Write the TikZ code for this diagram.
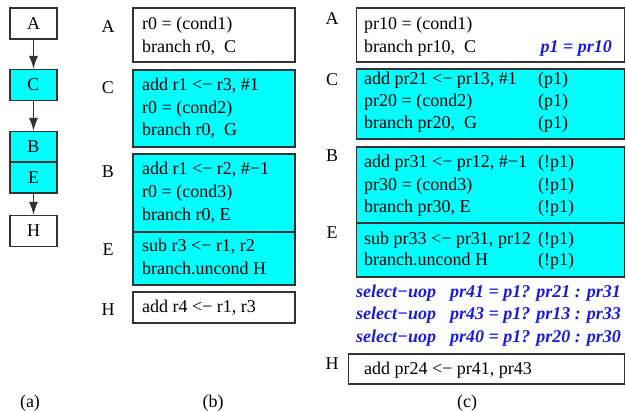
\documentclass[tikz,border=0pt]{standalone}
\usepackage{fontspec}
\setmainfont{Liberation Serif}
\usetikzlibrary{arrows.meta,positioning,calc}
\definecolor{blockfill}{HTML}{00FFFF}
\definecolor{predblue}{HTML}{1A1AE6}
\definecolor{boxline}{HTML}{333333}

\begin{document}
\begin{tikzpicture}[x=1pt,y=-1pt,font=\fontsize{18}{22}\selectfont,
  cfg/.style={draw=boxline,line width=1.2pt,fill=#1,minimum width=47pt,minimum height=31pt,inner sep=0pt},
  blk/.style={draw=boxline,line width=1.2pt,fill=#1,inner sep=0pt},
  line/.style={anchor=mid west,inner sep=0pt},
  pred/.style={anchor=mid west,inner sep=0pt,text=predblue,font=\fontsize{18}{22}\selectfont\bfseries\itshape},
  flow/.style={-{Latex[length=13pt,width=9pt]},line width=1.3pt,draw=boxline}]
\useasboundingbox (0,0) rectangle (626,410);

% (a) control flow
\node[cfg=white] (aA) at (33.5,23.5) {A};
\node[cfg=blockfill] (aC) at (33.5,85) {C};
\node[cfg=blockfill] (aB) at (33.5,147) {B};
\node[cfg=blockfill] (aE) at (33.5,177.5) {E};
\node[cfg=white] (aH) at (33.5,231) {H};
\draw[flow] (aA) -- (aC);
\draw[flow] (aC) -- (aB);
\draw[flow] (aE) -- (aH);

% (b) original code
\node[blk=white,minimum width=162pt,minimum height=54pt] (bA) at (214,35) {};
\node[blk=blockfill,minimum width=162pt,minimum height=77pt] (bC) at (214,108.5) {};
\node[blk=blockfill,minimum width=162pt,minimum height=78pt] (bB) at (214,193) {};
\node[blk=blockfill,minimum width=162pt,minimum height=53pt] (bE) at (214,258.5) {};
\node[blk=white,minimum width=162pt,minimum height=31pt] (bH) at (214,307.5) {};
\foreach \y/\l [count=\k] in {27/A,88/C,172/B,250/E,310/H}
  \node (bl\k) at (108,\y) {\l};
\foreach \y/\t [count=\k] in {27/{r0 = (cond1)},50/{branch r0,\ \ C},
  88/{add r1 <− r3, \#1},111/{r0 = (cond2)},133/{branch r0,\ \ G},
  172/{add r1 <− r2, \#−1},195/{r0 = (cond3)},218/{branch r0, E},
  249/{sub r3 <− r1, r2},272/{branch.uncond H},310/{add r4 <− r1, r3}}
  \node[line] (bt\k) at (142,\y) {\t};

% (c) predicated code
\node[blk=white,minimum width=268pt,minimum height=54pt] (cA) at (490.5,35) {};
\node[blk=blockfill,minimum width=268pt,minimum height=70pt] (cC) at (490.5,104) {};
\node[blk=blockfill,minimum width=268pt,minimum height=76pt] (cB) at (490.5,185) {};
\node[blk=blockfill,minimum width=268pt,minimum height=54pt] (cE) at (490.5,250) {};
\node[blk=white,minimum width=276pt,minimum height=30pt] (cH) at (486.5,369) {};
\foreach \y/\l [count=\k] in {19/A,80/C,156/B,233/E,364/H}
  \node (cl\k) at (332,\y) {\l};
\foreach \y/\t [count=\k] in {27/{pr10 = (cond1)},50/{branch pr10,\ \ C},
  82/{add pr21 <− pr13, \#1},104/{pr20 = (cond2)},126/{branch pr20,\ \ G},
  165/{add pr31 <− pr12, \#−1},188/{pr30 = (cond3)},210/{branch pr30, E},
  242/{sub pr33 <− pr31, pr12},263/{branch.uncond H},372/{add pr24 <− pr41, pr43}}
  \node[line] (ct\k) at (364,\y) {\t};
\foreach \y/\p [count=\k] in {82/(p1),104/(p1),126/(p1),165/(!p1),188/(!p1),210/(!p1),242/(!p1),263/(!p1)}
  \node[line] (cp\k) at (538,\y) {\p};
\node[pred,anchor=mid east] (cq) at (612,50) {p1 = pr10};
\foreach \y/\t [count=\k] in {295/{pr41 = p1? pr21 : pr31},317/{pr43 = p1? pr13 : pr33},340/{pr40 = p1? pr20 : pr30}} {
  \node[pred] (cs\k) at (356,\y) {select−uop};
  \node[pred] (cv\k) at (450,\y) {\t};
}

% captions
\node (capa) at (30,403) {(a)};
\node (capb) at (213,403) {(b)};
\node (capc) at (467,403) {(c)};
\end{tikzpicture}
\end{document}
